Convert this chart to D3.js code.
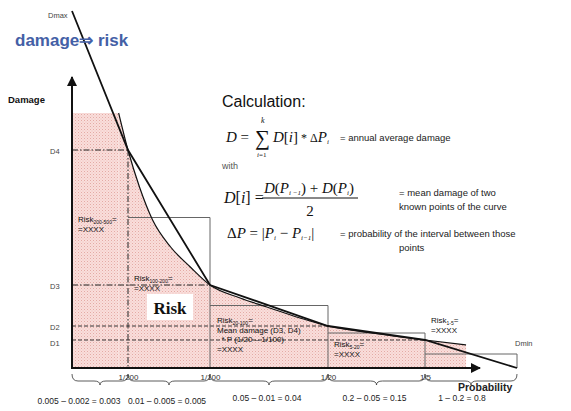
<!DOCTYPE html>
<html>
<head>
<meta charset="utf-8">
<script src="https://cdn.jsdelivr.net/npm/d3@7"></script>
<style>
  body { margin: 0; background: #fff; }
  svg { display: block; }
  text { font-family: "Liberation Sans", Arial, sans-serif; }
  .math { font-family: "Liberation Serif", "Times New Roman", serif; }
</style>
</head>
<body>
<svg id="chart" width="571" height="411"></svg>
<script>
// interval bounds on the probability axis (schematic, not to scale)
var probs = [0.002, 0.005, 0.01, 0.05, 0.2, 1];
var probTicks = [0.005, 0.01, 0.05, 0.2];
var probTickLabels = ['1/200', '1/100', '1/20', '1/5'];

// known damage points: Dmax, D4, D3, D2, D1, Dmin
var levelNames = ['Dmax', 'D4', 'D3', 'D2', 'D1', 'Dmin'];
var levelDamage = [357, 218, 83, 42, 28, 0];

// the "real" damage curve (smooth, under the chords)
var curveP = [0.0045, 0.005, 0.0057, 0.0065, 0.0076, 0.0088, 0.01, 0.0202, 0.0293, 0.0405, 0.05, 0.13, 0.2, 0.557];
var curveD = [255, 218, 181, 148, 121, 101, 83, 70, 61, 50, 42, 34, 28, 23];
var capP = 0.002;   // flat top of the shaded area starts here

var intervalNotes = ['0.005 \u2013 0.002 = 0.003', '0.01 \u2013 0.005 = 0.005', '0.05 \u2013 0.01 = 0.04',
                     '0.2 \u2013 0.05 = 0.15', '1 \u2013 0.2 = 0.8'];
var riskNames = ['200-500', '100-200', '20-100', '5-20', '1-5'];
var riskExtra = [[], [], ['Mean damage (D3, D4)', '  * P (1/20 \u2013 1/100)'], [], []];

var svg = d3.select('#chart');

var x = d3.scaleLinear()
    .domain(probs)
    .range([72, 128, 210, 328, 425, 517]);
var y = d3.scaleLinear()
    .domain([0, 360])
    .range([368, 8]);

// pink dotted fill
var defs = svg.append('defs');
var pat = defs.append('pattern')
    .attr('id', 'dots')
    .attr('patternUnits', 'userSpaceOnUse')
    .attr('width', 3).attr('height', 3);
pat.append('rect').attr('width', 3).attr('height', 3).attr('fill', '#f9dedb');
pat.append('rect').attr('width', 1).attr('height', 1).attr('fill', '#e4aaa5');
pat.append('rect').attr('x', 1.5).attr('y', 1.5).attr('width', 1).attr('height', 1).attr('fill', '#eec0bc');

defs.append('marker')
    .attr('id', 'arrow')
    .attr('viewBox', '0 0 10 10')
    .attr('refX', 9).attr('refY', 5)
    .attr('markerWidth', 5).attr('markerHeight', 5)
    .attr('markerUnits', 'strokeWidth')
    .attr('orient', 'auto')
    .append('path')
    .attr('d', 'M0,0 L10,5 L0,10 z')
    .attr('fill', '#111');

var curvePts = curveP.map(function(p, i) { return [p, curveD[i]]; });

// shaded area under the curve
svg.append('rect')
    .attr('x', x(capP))
    .attr('y', y(curveD[0]))
    .attr('width', x(curveP[0]) - x(capP))
    .attr('height', y(0) - y(curveD[0]))
    .attr('fill', 'url(#dots)');

svg.append('path')
    .datum(curvePts)
    .attr('fill', 'url(#dots)')
    .attr('d', d3.area()
        .x(function(d) { return x(d[0]); })
        .y0(y(0))
        .y1(function(d) { return y(d[1]); })
        .curve(d3.curveMonotoneX));

// dashed level lines D4..D1
levelNames.forEach(function(name, i) {
    if (i === 0 || i === levelNames.length - 1) return;
    svg.append('line')
        .attr('x1', x(probs[0])).attr('x2', x(probs[i]))
        .attr('y1', y(levelDamage[i])).attr('y2', y(levelDamage[i]))
        .attr('stroke', '#222')
        .attr('stroke-width', i <= 2 ? 1.2 : 0.9)
        .attr('stroke-dasharray', i <= 2 ? '6,2,1.5,2' : '4,2');
});
svg.append('line')
    .attr('x1', x(probs[1])).attr('x2', x(probs[1]))
    .attr('y1', y(levelDamage[1])).attr('y2', y(0))
    .attr('stroke', '#222').attr('stroke-width', 1)
    .attr('stroke-dasharray', '6,2,1.5,2');

// mean-damage bars (gray outline)
for (var i = 1; i < probs.length - 1; i++) {
    var mean = (levelDamage[i] + levelDamage[i + 1]) / 2;
    svg.append('path')
        .attr('d', 'M' + x(probs[i]) + ',' + y(mean) + ' H' + x(probs[i + 1]) + ' V' + y(0))
        .attr('fill', 'none')
        .attr('stroke', '#666')
        .attr('stroke-width', 1);
}

// smooth curve
svg.append('path')
    .datum(curvePts)
    .attr('fill', 'none')
    .attr('stroke', '#111')
    .attr('stroke-width', 1.2)
    .attr('d', d3.line()
        .x(function(d) { return x(d[0]); })
        .y(function(d) { return y(d[1]); })
        .curve(d3.curveMonotoneX));

// straight chords between known points
svg.append('path')
    .datum(probs.map(function(p, i) { return [p, levelDamage[i]]; }))
    .attr('fill', 'none')
    .attr('stroke', '#111')
    .attr('stroke-width', 1.8)
    .attr('d', d3.line()
        .x(function(d) { return x(d[0]); })
        .y(function(d) { return y(d[1]); }));

// axes
svg.append('line')
    .attr('x1', x(probs[0])).attr('x2', x(probs[0]))
    .attr('y1', y(0) + 1).attr('y2', 77)
    .attr('stroke', '#111').attr('stroke-width', 2)
    .attr('marker-end', 'url(#arrow)');
svg.append('line')
    .attr('x1', x(probs[0]) - 1).attr('x2', 480)
    .attr('y1', y(0)).attr('y2', y(0))
    .attr('stroke', '#111').attr('stroke-width', 2)
    .attr('marker-end', 'url(#arrow)');

// braces under each interval
function bracePath(x1, x2, y0) {
    var m = (x1 + x2) / 2, h1 = 7, h2 = 11, r = 6;
    return 'M' + x1 + ',' + y0 +
        ' Q' + x1 + ',' + (y0 + h1) + ' ' + (x1 + r) + ',' + (y0 + h1) +
        ' L' + (m - r) + ',' + (y0 + h1) +
        ' Q' + m + ',' + (y0 + h1) + ' ' + m + ',' + (y0 + h2) +
        ' Q' + m + ',' + (y0 + h1) + ' ' + (m + r) + ',' + (y0 + h1) +
        ' L' + (x2 - r) + ',' + (y0 + h1) +
        ' Q' + x2 + ',' + (y0 + h1) + ' ' + x2 + ',' + y0;
}
for (var j = 0; j < probs.length - 1; j++) {
    svg.append('path')
        .attr('d', bracePath(x(probs[j]), x(probs[j + 1]), 374))
        .attr('fill', 'none')
        .attr('stroke', '#333')
        .attr('stroke-width', 0.8);
}

var xAxis = d3.axisBottom(x)
    .tickValues(probTicks)
    .tickFormat(function(d, i) { return probTickLabels[i]; })
    .tickSize(0)
    .tickPadding(6);
var gx = svg.append('g')
    .attr('transform', 'translate(0,' + y(0) + ')')
    .call(xAxis);
gx.select('.domain').remove();
gx.selectAll('text')
    .attr('font-family', '"Liberation Sans", Arial, sans-serif')
    .attr('font-size', 8)
    .attr('fill', '#333');

svg.selectAll('.note')
    .data(intervalNotes)
    .enter().append('text')
    .attr('class', 'note')
    .attr('x', function(d, i) { return (x(probs[i]) + x(probs[i + 1])) / 2 - (i === 4 ? 9 : i === 0 ? 21 : 2); })
    .attr('y', function(d, i) { return i < 2 ? 404 : 401; })
    .attr('text-anchor', 'middle')
    .attr('font-size', 8.5)
    .attr('fill', '#222')
    .text(function(d) { return d; });

// level labels
levelNames.forEach(function(name, i) {
    var t = svg.append('text')
        .attr('font-size', 7.5)
        .attr('fill', '#444')
        .text(name);
    if (i === 0) {
        t.attr('x', 48).attr('y', 18);
    } else if (i === levelNames.length - 1) {
        t.attr('x', 515).attr('y', 346);
    } else {
        t.attr('x', 50).attr('y', y(levelDamage[i]) + (i === 4 ? 6 : 3.5));
    }
});

// risk labels per interval
var riskPos = [[78, 222], [134, 281], [217, 323], [334, 347], [431, 323]];
riskNames.forEach(function(name, i) {
    var t = svg.append('text')
        .attr('x', riskPos[i][0]).attr('y', riskPos[i][1])
        .attr('font-size', 8).attr('fill', '#111');
    t.append('tspan').text('Risk');
    t.append('tspan').attr('font-size', 5).attr('dy', 2).text(name);
    t.append('tspan').attr('dy', -2).text('=');
    var lines = riskExtra[i].concat(['=XXXX']);
    lines.forEach(function(line, k) {
        svg.append('text')
            .attr('x', riskPos[i][0]).attr('y', riskPos[i][1] + 9.5 * (k + 1))
            .attr('font-size', 8).attr('fill', '#111')
            .attr('xml:space', 'preserve')
            .text(line);
    });
});

// "Risk" box
svg.append('rect')
    .attr('x', 147).attr('y', 294).attr('width', 46).attr('height', 26)
    .attr('fill', '#fff');
svg.append('text')
    .attr('class', 'math')
    .attr('x', 170).attr('y', 314)
    .attr('text-anchor', 'middle')
    .attr('font-size', 17).attr('font-weight', 'bold')
    .attr('fill', '#111')
    .text('Risk');

// titles
svg.append('text')
    .attr('x', 15).attr('y', 46)
    .attr('font-size', 17).attr('font-weight', 'bold')
    .attr('fill', '#4460a6')
    .text('damage\u21d2 risk');
svg.append('text')
    .attr('x', 8).attr('y', 103)
    .attr('font-size', 9.5).attr('font-weight', 'bold')
    .attr('fill', '#111')
    .text('Damage');
svg.append('text')
    .attr('x', 458).attr('y', 391)
    .attr('font-size', 10.5).attr('font-weight', 'bold')
    .attr('fill', '#222')
    .text('Probability');

// calculation block
svg.append('text')
    .attr('x', 222).attr('y', 107)
    .attr('font-size', 16).attr('fill', '#111')
    .text('Calculation:');

function mathText(xp, yp, size) {
    return svg.append('text')
        .attr('class', 'math')
        .attr('x', xp).attr('y', yp)
        .attr('font-size', size)
        .attr('fill', '#111');
}
function part(t, s, italic, opts) {
    var sp = t.append('tspan').text(s);
    if (italic) sp.attr('font-style', 'italic');
    if (opts) Object.keys(opts).forEach(function(k) { sp.attr(k, opts[k]); });
    return sp;
}

var f1 = mathText(226, 142, 15);
part(f1, 'D', true);
part(f1, ' =', false);
mathText(255, 145, 21).text('\u2211');
mathText(261, 123, 8).attr('font-style', 'italic').text('k');
var lim = mathText(257, 157, 7);
part(lim, 'i', true); part(lim, '=1', false);
var f1b = mathText(273, 142, 15);
part(f1b, 'D', true); part(f1b, '[', false); part(f1b, 'i', true); part(f1b, ']', false);
part(f1b, ' * \u0394', false, { 'font-size': 12 });
part(f1b, 'P', true);
part(f1b, 'i', true, { 'font-size': 7, dy: 2 });

svg.append('text').attr('x', 222).attr('y', 169)
    .attr('font-size', 9).attr('fill', '#555').text('with');

var f2 = mathText(224, 203, 16);
part(f2, 'D', true); part(f2, '[', false); part(f2, 'i', true); part(f2, '] =', false);
var num = mathText(264, 193, 15);
part(num, 'D', true); part(num, '(', false); part(num, 'P', true);
part(num, 'i \u22121', true, { 'font-size': 7, dy: 2 });
part(num, ') + ', false, { dy: -2 });
part(num, 'D', true); part(num, '(', false); part(num, 'P', true);
part(num, 'i', true, { 'font-size': 7, dy: 2 });
part(num, ')', false, { dy: -2 });
svg.append('line')
    .attr('x1', 262).attr('x2', 358).attr('y1', 198).attr('y2', 198)
    .attr('stroke', '#111').attr('stroke-width', 1);
mathText(310, 216, 15).attr('text-anchor', 'middle').text('2');

var f3 = mathText(227, 238, 15);
part(f3, '\u0394', false);
part(f3, 'P', true);
part(f3, ' = |', false);
part(f3, 'P', true);
part(f3, 'i', true, { 'font-size': 7, dy: 2 });
part(f3, ' \u2212 ', false, { dy: -2 });
part(f3, 'P', true);
part(f3, 'i\u22121', true, { 'font-size': 7, dy: 2 });
part(f3, '|', false, { dy: -2 });

var notes = [[340, 141, '= annual average damage'],
             [399, 196, '= mean damage of two'],
             [399, 210, 'known points of the curve'],
             [340, 237, '= probability of the interval between those'],
             [399, 251, 'points']];
notes.forEach(function(n) {
    svg.append('text')
        .attr('x', n[0]).attr('y', n[1])
        .attr('font-size', 9.5).attr('fill', '#222')
        .text(n[2]);
});
</script>
</body>
</html>
